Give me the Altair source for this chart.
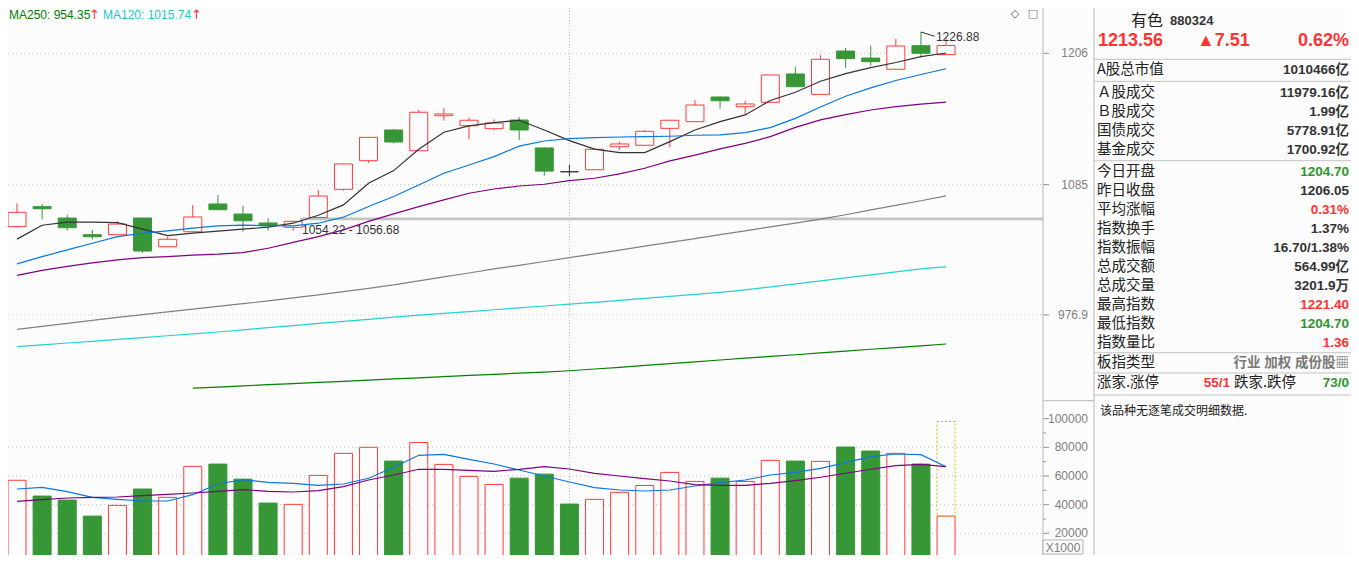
import altair as alt
import pandas as pd

# ------------------------------------------------------------------ data
opens = [1048.9, 1065.9, 1056.2, 1042.1, 1042.1, 1056.2, 1032.1, 1044.6, 1068.2, 1059.6,
         1052.0, 1048.3, 1056.68, 1080.9, 1106.1, 1133.8, 1115.0, 1146.9, 1137.7, 1135.0,
         1142.9, 1117.5, 1096.3, 1098.1, 1118.6, 1119.9, 1135.3, 1141.4, 1164.3, 1155.2,
         1159.4, 1186.1, 1166.8, 1208.2, 1201.4, 1190.6, 1213.4, 1204.70]
highs = [1068.8, 1068.2, 1058.8, 1046.1, 1053.4, 1056.5, 1040.4, 1067.3, 1076.0, 1066.5,
         1056.0, 1054.22, 1080.3, 1103.5, 1127.5, 1134.7, 1152.2, 1154.0, 1145.1, 1143.6,
         1145.7, 1117.8, 1102.3, 1116.6, 1123.1, 1133.8, 1143.0, 1161.5, 1164.6, 1160.6,
         1185.4, 1193.1, 1204.3, 1211.2, 1213.4, 1220.0, 1226.88, 1221.40]
lows = [1048.3, 1055.1, 1045.5, 1038.3, 1041.9, 1027.1, 1031.9, 1044.3, 1063.0, 1044.6,
        1045.5, 1045.5, 1056.68, 1079.7, 1104.3, 1121.7, 1114.8, 1142.3, 1125.3, 1133.5,
        1124.7, 1092.8, 1092.5, 1097.8, 1115.7, 1119.6, 1118.1, 1141.1, 1153.4, 1148.2,
        1159.1, 1173.8, 1166.5, 1192.1, 1194.0, 1190.3, 1202.1, 1204.70]
closes = [1061.1, 1064.1, 1048.0, 1040.4, 1051.1, 1028.5, 1038.3, 1057.1, 1063.3, 1053.9,
          1049.7, 1053.4, 1075.1, 1103.2, 1127.1, 1122.9, 1150.1, 1148.5, 1142.7, 1140.2,
          1133.8, 1096.9, 1096.3, 1116.3, 1121.1, 1132.6, 1142.7, 1156.8, 1160.8, 1157.8,
          1185.1, 1174.0, 1200.2, 1200.8, 1197.9, 1213.1, 1206.05, 1213.56]
volumes = [57000, 46000, 43200, 32000, 39500, 50900, 45100, 66700, 68300, 57800,
           41100, 40200, 60400, 75800, 80000, 70400, 83400, 68100, 59700, 54100,
           58500, 61300, 40400, 43700, 48600, 53400, 62500, 56200, 58500, 56200,
           70900, 70400, 70200, 80200, 77400, 75800, 68300, 32019]
volume_forecast = 98000

ma5 = [1038.4, 1050.1, 1052.7, 1052.7, 1052.3, 1046.8, 1041.4, 1043.4, 1045.1, 1046.8,
       1048.5, 1051.8, 1058.6, 1067.4, 1086.2, 1097.3, 1116.4, 1131.7, 1137.5, 1140.5,
       1142.7, 1133.8, 1124.1, 1116.4, 1113.3, 1113.3, 1123.2, 1133.8, 1141.4, 1147.6,
       1161.0, 1168.8, 1179.2, 1186.4, 1192.2, 1197.1, 1202.7, 1206.3]
ma10 = [1017.9, 1023.9, 1029.4, 1035.0, 1040.5, 1043.4, 1045.3, 1047.6, 1049.6, 1050.1,
        1049.8, 1049.6, 1051.8, 1056.9, 1066.0, 1074.7, 1084.7, 1095.0, 1102.3, 1109.7,
        1119.2, 1123.8, 1125.9, 1126.8, 1127.4, 1127.7, 1128.1, 1129.0, 1129.3, 1131.4,
        1136.0, 1144.4, 1155.0, 1165.0, 1172.9, 1179.9, 1185.6, 1191.1]
ma20 = [1008.5, 1012.6, 1015.9, 1018.7, 1021.2, 1023.1, 1023.9, 1025.1, 1025.9, 1027.2,
        1030.8, 1035.7, 1040.5, 1046.2, 1053.3, 1059.7, 1066.0, 1071.7, 1077.5, 1081.2,
        1083.8, 1085.3, 1088.5, 1090.6, 1094.4, 1099.4, 1105.9, 1111.0, 1116.7, 1121.7,
        1127.7, 1136.2, 1143.0, 1147.9, 1152.2, 1155.3, 1157.6, 1159.5]
ma60 = [965.7, 968.0, 970.3, 972.7, 975.0, 977.1, 979.3, 981.5, 983.7, 985.8,
        988.0, 990.5, 992.9, 995.4, 998.0, 1000.8, 1004.1, 1007.3, 1010.5, 1013.8,
        1016.7, 1019.9, 1023.1, 1026.2, 1029.3, 1032.6, 1035.7, 1038.9, 1042.2, 1045.4,
        1048.7, 1051.9, 1055.3, 1059.0, 1063.1, 1067.0, 1071.0, 1075.2]
ma120 = [952.3, 953.7, 955.1, 956.4, 957.9, 959.3, 960.7, 962.2, 963.6, 965.3,
         967.0, 968.6, 970.3, 971.9, 973.5, 975.2, 976.7, 978.1, 979.6, 981.0,
         982.5, 984.0, 985.4, 986.9, 988.5, 990.1, 991.7, 993.3, 994.8, 996.9,
         999.2, 1001.7, 1004.1, 1006.5, 1009.0, 1011.4, 1013.8, 1015.74]
ma250 = [None, None, None, None, None, None, None,
         921.0, 921.8, 922.7, 923.6, 924.4, 925.3, 926.1, 927.0, 927.9, 928.7, 929.6,
         930.5, 931.3, 932.2, 933.0, 934.0, 935.3, 936.6, 938.1, 939.4, 940.7, 942.1,
         943.5, 944.8, 946.1, 947.5, 948.9, 950.3, 951.6, 952.9, 954.35]
vol_ma5 = [50930, 52120, 49050, 45140, 43750, 42560, 42560, 46960, 54420, 57420,
           55610, 54910, 53510, 54420, 58400, 66070, 74440, 75140, 71650, 68370,
           64190, 60000, 55820, 51840, 50230, 49540, 50230, 53030, 55330, 57210,
           60700, 62580, 65370, 69280, 73470, 75350, 74860, 66490]
vol_ma10 = [42350, 43470, 44650, 45140, 45350, 46260, 47230, 48140, 49330, 50440,
            49330, 48840, 49750, 52540, 57210, 60700, 64680, 64680, 63980, 63280,
            64680, 66490, 64890, 61890, 60000, 58120, 56510, 53930, 53510, 53510,
            54910, 56720, 59100, 61890, 64680, 67190, 68170, 66490]

price_ticks = [1206, 1085, 976.9]
price_tick_labels = ["1206", "1085", "976.9"]
vol_ticks = [100000, 80000, 60000, 40000, 20000]
vol_minor_ticks = [90000, 70000, 50000, 30000, 10000]
gap_low, gap_high = 1054.22, 1056.68
crosshair_index = 22

header_items = ["MA250: 954.35", "MA120: 1015.74"]

title_name = "有色"
title_code = "880324"
quote_last = "1213.56"
quote_change = "▲7.51"
quote_pct = "0.62%"

info_labels = ["A股总市值", "Ａ股成交", "Ｂ股成交", "国债成交", "基金成交",
               "今日开盘", "昨日收盘", "平均涨幅", "指数换手", "指数振幅",
               "总成交额", "总成交量", "最高指数", "最低指数", "指数量比", "板指类型"]
info_values = ["1010466亿", "11979.16亿", "1.99亿", "5778.91亿", "1700.92亿",
               "1204.70", "1206.05", "0.31%", "1.37%", "16.70/1.38%",
               "564.99亿", "3201.9万", "1221.40", "1204.70", "1.36", "行业 加权 成份股▦"]
info_tones = ["dark", "dark", "dark", "dark", "dark",
              "green", "dark", "red", "dark", "dark",
              "dark", "dark", "red", "green", "red", "gray"]
info_groups = [1, 4, 10, 1]
breadth = ["涨家.涨停", "55/1", "跌家.跌停", "73/0"]
info_note = "该品种无逐笔成交明细数据."

# ------------------------------------------------------------------ style / layout
W, H = 1343, 547
BG = "#fcfcfc"
RED = "#ff3b3b"
GREEN = "#379737"
DOJI = "#333333"
GRID = "#c2c2c2"
FRAME = "#b8b8b8"
FONT = "Liberation Sans, Arial, Noto Sans CJK SC, sans-serif"
CJK = "Noto Sans CJK SC, sans-serif"
TONE = {"dark": "#333333", "green": "#2e962e", "red": "#ff3333", "gray": "#777777"}
MA_COLORS = ["#333333", "#0a78dc", "#800080", "#808080", "#22d2d2", "#008000"]
VMA_COLORS = ["#0a78dc", "#800080"]
RIGHT = 1341

STEP = 25.38
x_scale = alt.Scale(domain=[0, 37], range=[4, 4 + STEP * 37], nice=False, zero=False)
price_scale = alt.Scale(type="log", domain=[900, 1240], range=[408.8, 10.77], nice=False, zero=False)
vol_scale = alt.Scale(domain=[0, 100000], range=[554, 410.65], nice=False, zero=False)

X = alt.X("i:Q", scale=x_scale, axis=None)


def PY(f):
    return alt.Y(f, scale=price_scale, axis=None)


def VY(f):
    return alt.Y(f, scale=vol_scale, axis=None)


n = len(closes)
dirs = ["up" if c > o else ("down" if c < o else "flat") for o, c in zip(opens, closes)]
stroke_col = [RED if d == "up" else GREEN if d == "down" else DOJI for d in dirs]
fill_col = [BG if d == "up" else s for d, s in zip(dirs, stroke_col)]
vol_col = []
for k, d in enumerate(dirs):
    if d == "flat":
        d = "up" if k > 0 and closes[k] >= closes[k - 1] else "down"
    vol_col.append(RED if d == "up" else GREEN)
vol_fill = [BG if c == RED else c for c in vol_col]

cdf = pd.DataFrame({
    "i": list(range(n)), "o": opens, "h": highs, "l": lows, "c": closes,
    "lo": [min(a, b) for a, b in zip(opens, closes)],
    "hi": [max(a, b) for a, b in zip(opens, closes)],
    "stroke": stroke_col, "fill": fill_col,
    "v": volumes, "vstroke": vol_col, "vfill": vol_fill,
})

rows = []
for (name, vals), col in zip([("MA5", ma5), ("MA10", ma10), ("MA20", ma20), ("MA60", ma60),
                              ("MA120", ma120), ("MA250", ma250)], MA_COLORS):
    for k, v in enumerate(vals):
        if v is not None:
            rows.append({"i": k, "v": v, "s": name, "col": col})
madf = pd.DataFrame(rows)

vrows = []
for (name, vals), col in zip([("V5", vol_ma5), ("V10", vol_ma10)], VMA_COLORS):
    for k, v in enumerate(vals):
        vrows.append({"i": k, "v": v, "s": name, "col": col})
vmadf = pd.DataFrame(vrows)

one = pd.DataFrame({"k": [0]})

# ------------------------------------------------------------------ price panel
ptick_df = pd.DataFrame({"p": price_ticks, "lab": price_tick_labels})
grid_p = alt.Chart(ptick_df).mark_rule(color=GRID, strokeDash=[1, 3]).encode(
    y=PY("p:Q"), x=alt.value(0), x2=alt.value(1035))
gap_df = pd.DataFrame({"lo": [gap_low], "hi": [gap_high],
                       "lab": [f"{gap_low:.2f} - {gap_high:.2f}"]})
gap_band = alt.Chart(gap_df).mark_rect(color="#c3c3c3").encode(
    y=PY("lo:Q"), y2="hi:Q", x=alt.value(292), x2=alt.value(1035))
gap_text = alt.Chart(gap_df).mark_text(align="left", baseline="middle", dy=10, fontSize=12,
                                       font=FONT, color="#333333").encode(
    y=PY("lo:Q"), x=alt.value(294), text="lab:N")
cross = alt.Chart(pd.DataFrame({"i": [crosshair_index]})).mark_rule(
    color="#bcbcbc", strokeDash=[1, 2]).encode(x=X, y=alt.value(0), y2=alt.value(H))
wicks = alt.Chart(cdf).mark_rule(strokeWidth=1, clip=True).encode(
    x=X, y=PY("l:Q"), y2="h:Q", color=alt.Color("stroke:N", scale=None))
bodies = alt.Chart(cdf).mark_bar(size=18, strokeWidth=1, clip=True).encode(
    x=X, y=PY("lo:Q"), y2="hi:Q",
    fill=alt.Fill("fill:N", scale=None), stroke=alt.Stroke("stroke:N", scale=None))
ma_lines = alt.Chart(madf).mark_line(strokeWidth=1.2, clip=True).encode(
    x=X, y=PY("v:Q"), color=alt.Color("col:N", scale=None), detail="s:N", order="i:Q")
peak_df = cdf.loc[[cdf["h"].idxmax()]].assign(lab=lambda d: d["h"].map(lambda v: f"{v:.2f}"))
peak_text = alt.Chart(peak_df).mark_text(align="left", baseline="middle", dx=15, dy=5,
                                         fontSize=12, font=FONT, color="#333333").encode(
    x=X, y=PY("h:Q"), text="lab:N")
peak_lead = alt.Chart(peak_df).transform_calculate(
    i2="datum.i + 0.55", h2="datum.h * 0.9965").mark_rule(color="#333333").encode(
    x=X, x2="i2:Q", y=PY("h:Q"), y2="h2:Q")
p_labels = alt.Chart(ptick_df).mark_text(align="right", baseline="middle", fontSize=12,
                                         font=FONT, color="#808080").encode(
    y=PY("p:Q"), x=alt.value(1080), text="lab:N")
p_ticks = alt.Chart(ptick_df).mark_rule(color="#909090").encode(
    y=PY("p:Q"), x=alt.value(1035), x2=alt.value(1041))

price_group = alt.layer(grid_p, gap_band, cross, wicks, bodies, ma_lines, gap_text,
                        peak_lead, peak_text, p_labels, p_ticks)

# ------------------------------------------------------------------ volume panel
vtick_df = pd.DataFrame({"v": vol_ticks, "lab": [str(t) for t in vol_ticks]})
grid_v = alt.Chart(vtick_df[vtick_df["v"] < 100000]).mark_rule(color=GRID, strokeDash=[1, 3]).encode(
    y=VY("v:Q"), x=alt.value(0), x2=alt.value(1035))
vbars = alt.Chart(cdf).mark_bar(size=18, strokeWidth=1, clip=True).encode(
    x=X, y=VY("v:Q"),
    fill=alt.Fill("vfill:N", scale=None), stroke=alt.Stroke("vstroke:N", scale=None))
proj_df = cdf.tail(1).assign(f=volume_forecast)
proj = alt.Chart(proj_df).mark_bar(size=18, fillOpacity=0, stroke="#c8c000", strokeWidth=1,
                                   strokeDash=[2, 2]).encode(x=X, y=VY("f:Q"), y2="v:Q")
vma_lines = alt.Chart(vmadf).mark_line(strokeWidth=1.2, clip=True).encode(
    x=X, y=VY("v:Q"), color=alt.Color("col:N", scale=None), detail="s:N", order="i:Q")
v_labels = alt.Chart(vtick_df).mark_text(align="right", baseline="middle", fontSize=12,
                                         font=FONT, color="#808080").encode(
    y=VY("v:Q"), x=alt.value(1080), text="lab:N")
v_ticks = alt.Chart(vtick_df).mark_rule(color="#909090").encode(
    y=VY("v:Q"), x=alt.value(1035), x2=alt.value(1041))
v_minor = alt.Chart(pd.DataFrame({"v": vol_minor_ticks})).mark_rule(color="#909090").encode(
    y=VY("v:Q"), x=alt.value(1035), x2=alt.value(1038))

volume_group = alt.layer(grid_v, vbars, proj, vma_lines, v_labels, v_ticks, v_minor)

# ------------------------------------------------------------------ frame & header
axis_line = alt.Chart(one).mark_rule(color=FRAME).encode(
    x=alt.value(1035), y=alt.value(0), y2=alt.value(H))
info_border = alt.Chart(one).mark_rule(color=FRAME).encode(
    x=alt.value(1086), y=alt.value(0), y2=alt.value(H))
panel_sep = alt.Chart(one).mark_rule(color=FRAME).encode(
    x=alt.value(1035), x2=alt.value(1086), y=alt.value(392.7))
x1000_box = alt.Chart(one).mark_rect(fill=BG, stroke="#b0b0b0").encode(
    x=alt.value(1035), x2=alt.value(1075), y=alt.value(532), y2=alt.value(546))
x1000_text = alt.Chart(one).mark_text(text="X1000", fontSize=12, font=FONT, color="#808080",
                                      align="center", baseline="middle").encode(
    x=alt.value(1055), y=alt.value(539.5))
hdr1 = alt.Chart(one).mark_text(text=header_items[0], align="left", baseline="middle",
                                fontSize=12, font=FONT, color="#008000").encode(
    x=alt.value(1), y=alt.value(7))
hdr1a = alt.Chart(one).mark_text(text="↑", align="left", baseline="middle", fontSize=13,
                                 font="DejaVu Sans", color="#ff3333").encode(
    x=alt.value(81), y=alt.value(7))
hdr2 = alt.Chart(one).mark_text(text=header_items[1], align="left", baseline="middle",
                                fontSize=12, font=FONT, color="#22c8c8").encode(
    x=alt.value(95), y=alt.value(7))
hdr2a = alt.Chart(one).mark_text(text="↑", align="left", baseline="middle", fontSize=13,
                                 font="DejaVu Sans", color="#ff3333").encode(
    x=alt.value(183), y=alt.value(7))
icon1 = alt.Chart(one).mark_text(text="◇", fontSize=11, font="DejaVu Sans", color="#555555",
                                 baseline="middle").encode(x=alt.value(1007), y=alt.value(6))
icon2 = alt.Chart(one).mark_text(text="□", fontSize=11, font="DejaVu Sans", color="#777777",
                                 baseline="middle").encode(x=alt.value(1025), y=alt.value(6))

frame_group = alt.layer(axis_line, info_border, panel_sep, x1000_box, x1000_text,
                        hdr1, hdr1a, hdr2, hdr2a, icon1, icon2)

# ------------------------------------------------------------------ info panel
ROW0, ROW, GAPS = 62.0, 19.0, [0.0, 3.7, 6.7, 7.7]
row_y = []
k = 0
for g, size in enumerate(info_groups):
    for _ in range(size):
        row_y.append(ROW0 + ROW * k + GAPS[g])
        k += 1
breadth_y = row_y[-1] + 20.6
note_y = breadth_y + 27.7
sep_y = [row_y[0] - 10.7]
k = 0
for size in info_groups[:-1]:
    k += size
    sep_y.append((row_y[k - 1] + row_y[k]) / 2)
sep_y.append((row_y[-1] + breadth_y) / 2)
sep_y.append(breadth_y + 11.7)

info_df = pd.DataFrame({"lab": info_labels, "val": info_values,
                        "col": [TONE[t] for t in info_tones], "y": row_y})
info_lab = alt.Chart(info_df).mark_text(align="left", baseline="middle", fontSize=14.5,
                                        font=CJK, color="#222222").encode(
    x=alt.value(1089), y=alt.Y("y:Q", scale=None, axis=None), text="lab:N")
info_val = alt.Chart(info_df).mark_text(align="right", baseline="middle", fontSize=13.5,
                                        fontWeight="bold", font=FONT).encode(
    x=alt.value(RIGHT), y=alt.Y("y:Q", scale=None, axis=None), text="val:N",
    color=alt.Color("col:N", scale=None))
sep_df = pd.DataFrame({"y": sep_y})
info_seps = alt.Chart(sep_df).mark_rule(color="#c4c4c4").encode(
    x=alt.value(1086), x2=alt.value(W), y=alt.Y("y:Q", scale=None, axis=None))

br_df = pd.DataFrame({
    "t": breadth,
    "col": ["#222222", TONE["red"], "#222222", TONE["green"]],
    "align": ["left", "right", "left", "right"],
    "x": [1089, 1222, 1226, RIGHT],
    "font": [CJK, FONT, CJK, FONT],
})
br_layers = []
for _, r in br_df.iterrows():
    br_layers.append(alt.Chart(one).mark_text(
        text=r["t"], align=r["align"], baseline="middle",
        fontSize=14.5 if r["font"] == CJK else 13.5,
        fontWeight="normal" if r["font"] == CJK else "bold",
        font=r["font"], color=r["col"]).encode(x=alt.value(r["x"]), y=alt.value(breadth_y)))

note = alt.Chart(one).mark_text(text=info_note, align="left", baseline="middle", fontSize=12,
                                font=CJK, color="#222222").encode(
    x=alt.value(1092), y=alt.value(note_y))
t_name = alt.Chart(one).mark_text(text=title_name, align="left", baseline="middle", fontSize=16,
                                  font=CJK, color="#222222").encode(x=alt.value(1123), y=alt.value(13))
t_code = alt.Chart(one).mark_text(text=title_code, align="left", baseline="middle", fontSize=13,
                                  fontWeight="bold", font=FONT, color="#333333").encode(
    x=alt.value(1162), y=alt.value(13))
q_last = alt.Chart(one).mark_text(text=quote_last, align="left", baseline="middle", fontSize=18,
                                  fontWeight="bold", font=FONT, color="#ff3333").encode(
    x=alt.value(1090), y=alt.value(33))
q_chg = alt.Chart(one).mark_text(text=quote_change, align="left", baseline="middle", fontSize=18,
                                 fontWeight="bold", font=FONT, color="#ff3333").encode(
    x=alt.value(1189), y=alt.value(33))
q_pct = alt.Chart(one).mark_text(text=quote_pct, align="right", baseline="middle", fontSize=18,
                                 fontWeight="bold", font=FONT, color="#ff3333").encode(
    x=alt.value(RIGHT), y=alt.value(33))

info_group = alt.layer(info_seps, info_lab, info_val, *br_layers, note,
                       t_name, t_code, q_last, q_chg, q_pct)

# ------------------------------------------------------------------ assemble
chart = alt.layer(price_group, volume_group, frame_group, info_group).resolve_scale(
    x="independent", y="independent"
).properties(
    width=W, height=H, background=BG, padding=0,
    autosize=alt.AutoSizeParams(type="none"),
).configure_view(stroke=None)

chart.save("out.html", embed_options={"renderer": "svg", "actions": False})
